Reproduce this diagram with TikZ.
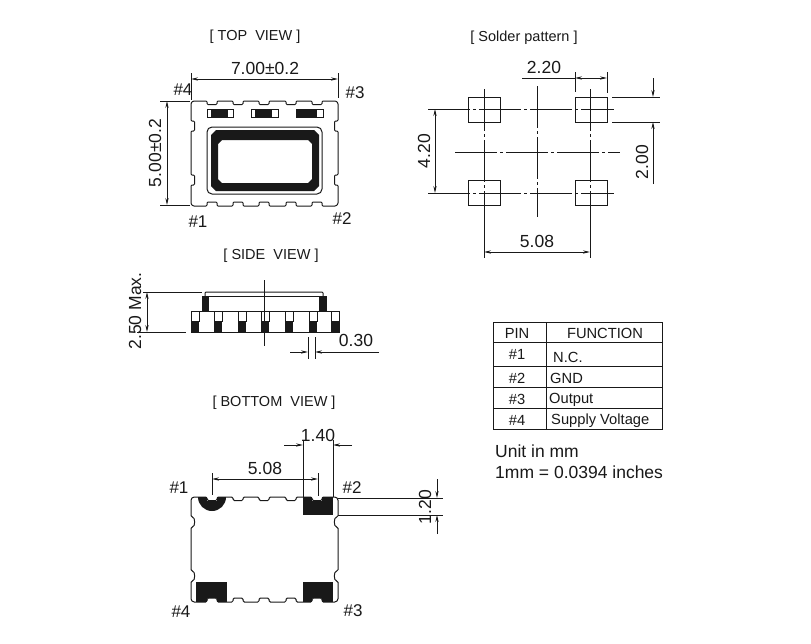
\documentclass[tikz,border=0pt]{standalone}
\usepackage{fontspec}
\setmainfont{Liberation Sans}
\usetikzlibrary{arrows.meta}
\definecolor{ink}{gray}{0.1}
\tikzset{
  part/.style={draw=ink,line width=1pt},
  solid pad/.style={fill=ink,draw=none},
  dim/.style={draw=ink,line width=0.8pt},
  dimarrow/.style={dim,-{Stealth[length=7pt,width=3.2pt]}},
  dimboth/.style={dim,{Stealth[length=7pt,width=3.2pt]}-{Stealth[length=7pt,width=3.2pt]}},
  center line/.style={draw=ink,line width=0.9pt,dash pattern=on 42pt off 3pt on 3pt off 3pt},
  big/.style={font=\fontsize{17.5}{19}\selectfont,text=ink,inner sep=0pt},
  pinlabel/.style={font=\fontsize{17}{18}\selectfont,text=ink,inner sep=0pt},
  title/.style={font=\fontsize{14.5}{15}\selectfont,text=ink,inner sep=0pt},
  cell/.style={font=\fontsize{14.7}{15}\selectfont,text=ink,inner sep=0pt},
  celll/.style={cell,anchor=west},
  note/.style={font=\fontsize{17.5}{18}\selectfont,text=ink,inner sep=0pt,anchor=west},
}
\begin{document}
\begin{tikzpicture}[x=1pt,y=-1pt]
\useasboundingbox (0,0) rectangle (811,643);
\fill[white] (0,0) rectangle (811,643);

% ---------- TOP VIEW
\node[title] (ttop) at (255,37) {[ TOP\ \ VIEW ]};
\begin{scope}[shift={(191,101)}]
\draw[part,rounded corners=1pt] (0,2) -- (2,0)
  \foreach \a in {16,42,68,95,121}{ -- (\a,0) -- (\a,3.5) -- (\a+10,3.5) -- (\a+10,0)}
  -- (145,0) -- (147,2) -- (147,20) -- (143.5,20) -- (143.5,30) -- (147,30)
  -- (147,74) -- (143.5,74) -- (143.5,84) -- (147,84) -- (147,103) -- (145,105)
  \foreach \a in {121,95,68,42,16}{ -- (\a+10,105) -- (\a+10,101) -- (\a,101) -- (\a,105)}
  -- (2,105) -- (0,103) -- (0,84) -- (3.5,84) -- (3.5,74) -- (0,74) -- (0,30) -- (3.5,30) -- (3.5,20) -- (0,20) -- cycle;
\end{scope}
% small marks
\draw[part,line width=0.7pt] (207,109) rectangle (233,117);
\fill[ink] (211,109) rectangle (228,117);
\draw[part,line width=0.7pt] (251,109) rectangle (278,117);
\fill[ink] (255,109) rectangle (272,117);
\draw[part,line width=0.7pt] (296,109) rectangle (323,117);
\fill[ink] (296,109) rectangle (317,117);
% crystal can
\draw[part,rounded corners=5pt] (207,127) rectangle (322,194);
\fill[ink,even odd rule] (216,130) -- (314,130) -- (319,135) -- (319,186) -- (314,191) -- (216,191) -- (211,186) -- (211,135) -- cycle
  (222,140) -- (308,140) -- (312,144) -- (312,179) -- (308,183) -- (222,183) -- (218,179) -- (218,144) -- cycle;
% dimensions
\coordinate (tl) at (191,73); \coordinate (tla) at (191,100);
\coordinate (tr) at (338,73); \coordinate (tra) at (338,98);
\draw[dim] (tl) -- (tla);
\draw[dim] (tr) -- (tra);
\draw[dimboth] (191,79) -- (338,79);
\node[big] (d700) at (265,68) {7.00±0.2};
\draw[dim] (160,101) -- (190,101);
\draw[dim] (160,205) -- (190,205);
\draw[dimboth] (167,101) -- (167,205);
\node[big,rotate=90] (d500) at (155,153) {5.00±0.2};
\node[pinlabel] (t4) at (183,90) {\#4};
\node[pinlabel] (t3) at (355,93) {\#3};
\node[pinlabel] (t1) at (198,222) {\#1};
\node[pinlabel] (t2) at (342,219) {\#2};

% ---------- SIDE VIEW
\node[title] (tside) at (271,256) {[ SIDE\ \ VIEW ]};
\draw[part] (191,311) rectangle (339,332);
\draw[part,rounded corners=1pt] (205,296) -- (205,292) -- (323,292) -- (323,296);
\draw[part] (209,296) -- (319,296);
\fill[ink] (202,296) rectangle (209,311);
\fill[ink] (319,296) rectangle (327,311);
\foreach \x in {191,214,238,261,285,309,331}{
  \draw[part,line width=0.7pt] (\x,311) rectangle (\x+8,321);
  \fill[ink] (\x,321) rectangle (\x+8,332);
}
\draw[dim] (264.5,280) -- (264.5,346);
\draw[dim] (143,292) -- (202,292);
\draw[dim] (137,332) -- (186,332);
\draw[dimboth] (147,292) -- (147,332);
\node[big,rotate=90] (d250) at (135,311) {2.50 Max.};
\draw[dim] (308,337) -- (308,359);
\draw[dim] (315,337) -- (315,359);
\draw[dimarrow] (290,352) -- (308,352);
\draw[dimarrow] (379,352) -- (315,352);
\node[big] (d030) at (356,340) {0.30};

% ---------- BOTTOM VIEW
\node[title] (tbot) at (274,403) {[ BOTTOM\ \ VIEW ]};
\begin{scope}[shift={(191,497)}]
% pads
\fill[ink] (7,0) .. controls (7,7.73) and (13.27,14) .. (21,14) .. controls (28.73,14) and (35,7.73) .. (35,0) -- cycle;
\fill[ink] (112,0) rectangle (142,18);
\fill[ink] (5,85) rectangle (36,105);
\fill[ink] (112,85) rectangle (142,105);
\foreach \a in {16,121}{
  \fill[white] (\a,-1) rectangle (\a+10,3.5);
  \fill[white] (\a,101) rectangle (\a+10,106);
}
\draw[part,rounded corners=1.3pt] (0,2) -- (2,0)
  \foreach \a in {16,42,68,95,121}{ -- (\a,0) -- (\a,3.5) -- (\a+10,3.5) -- (\a+10,0)}
  -- (145,0) -- (147,2) -- (147,20) .. controls (142.5,20) and (142.5,30) .. (147,30)
  -- (147,74) .. controls (142.5,74) and (142.5,84) .. (147,84) -- (147,103) -- (145,105)
  \foreach \a in {121,95,68,42,16}{ -- (\a+10,105) -- (\a+10,101) -- (\a,101) -- (\a,105)}
  -- (2,105) -- (0,103) -- (0,84) .. controls (4.5,84) and (4.5,74) .. (0,74) -- (0,30) .. controls (4.5,30) and (4.5,20) .. (0,20) -- cycle;
\end{scope}
\draw[dim] (212,473) -- (212,495);
\draw[dim] (318,473) -- (318,496);
\draw[dimboth] (212,479) -- (318,479);
\node[big] (b508) at (265,468) {5.08};
\draw[dim] (303,440) -- (303,497);
\draw[dim] (333,440) -- (333,497);
\draw[dimarrow] (284,445) -- (303,445);
\draw[dimarrow] (352,445) -- (333,445);
\node[big] (b140) at (318,435) {1.40};
\draw[dim] (338,498) -- (443,498);
\draw[dim] (338,515) -- (443,515);
\draw[dimarrow] (437,479) -- (437,498);
\draw[dimarrow] (437,534) -- (437,515);
\node[big,rotate=90] (b120) at (425,507) {1.20};
\node[pinlabel] (b1) at (179,488) {\#1};
\node[pinlabel] (b2) at (352,488) {\#2};
\node[pinlabel] (b4) at (181,612) {\#4};
\node[pinlabel] (b3) at (353,611) {\#3};

% ---------- SOLDER PATTERN
\node[title] (tsol) at (524,38) {[ Solder pattern ]};
\foreach \x/\y in {468/97,575/97,468/180,575/180}{
  \draw[part] (\x,\y) rectangle (\x+32,\y+25);
}
\draw[center line] (428,109) -- (614,109);
\draw[center line] (428,193) -- (614,193);
\draw[center line] (455,152) -- (620,152);
\draw[center line] (484,89) -- (484,220);
\draw[center line] (590,89) -- (590,220);
\draw[center line] (537,86) -- (537,217);
\draw[dim] (484,220) -- (484,258);
\draw[dim] (590,220) -- (590,258);
\draw[dimboth] (484,252) -- (590,252);
\node[big] (s508) at (537,241) {5.08};
\draw[dim] (575,72) -- (575,92);
\draw[dim] (607,72) -- (607,93);
\draw[dim] (522,78) -- (575,78);
\draw[dimboth] (575,78) -- (607,78);
\node[big] (s220) at (544,67) {2.20};
\draw[dimboth] (435,109) -- (435,193);
\node[big,rotate=90] (s420) at (424,151) {4.20};
\draw[dim] (612,97) -- (660,97);
\draw[dim] (612,122) -- (660,122);
\draw[dimarrow] (653,78) -- (653,97);
\draw[dimarrow] (653,184) -- (653,122);
\node[big,rotate=90] (s200) at (642,162) {2.00};

% ---------- TABLE
\draw[part] (493,322) rectangle (662,429);
\foreach \y in {342,366,387,408}{ \draw[part] (493,\y) -- (662,\y); }
\draw[part] (546,322) -- (546,429);
\node[cell] (hpin) at (517,333) {PIN};
\node[cell] (hfun) at (605,333) {FUNCTION};
\node[cell] (p1) at (517,354) {\#1};
\node[cell] (p2) at (517,378) {\#2};
\node[cell] (p3) at (517,399) {\#3};
\node[cell] (p4) at (517,420) {\#4};
\node[celll] (f1) at (553,357) {N.C.};
\node[celll] (f2) at (550,378) {GND};
\node[celll] (f3) at (549,400) {Output};
\node[celll] (f4) at (551,421) {Supply Voltage};
\node[note] (u1) at (495,451) {Unit in mm};
\node[note] (u2) at (495,472) {1mm = 0.0394 inches};
\end{tikzpicture}
\end{document}
